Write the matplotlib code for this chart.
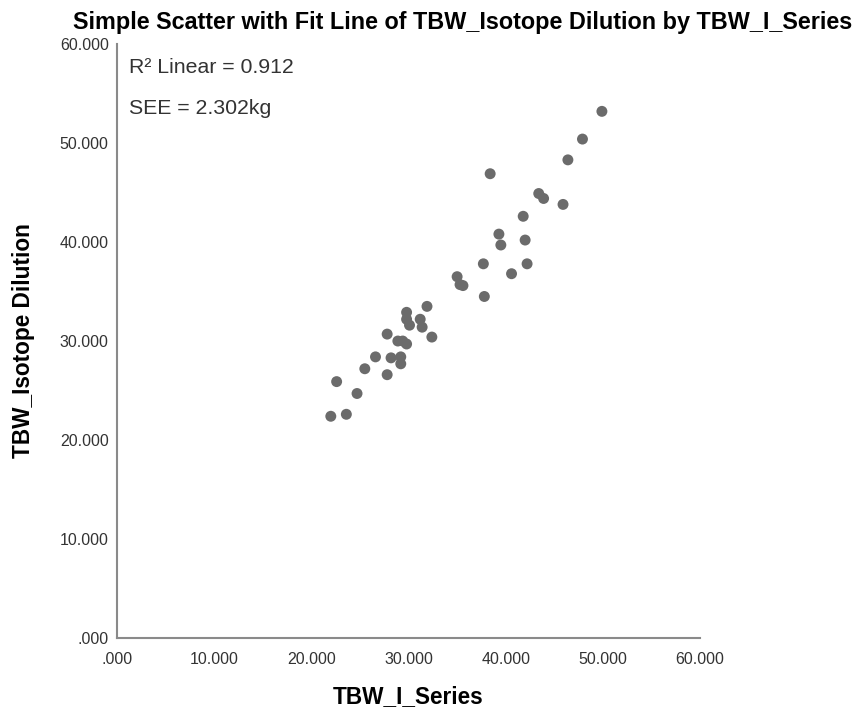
import matplotlib
matplotlib.use("Agg")
import matplotlib.pyplot as plt

plt.rcParams['font.family'] = ['Liberation Sans', 'DejaVu Sans']

title = "Simple Scatter with Fit Line of TBW_Isotope Dilution by TBW_I_Series"
x_label = "TBW_I_Series"
y_label = "TBW_Isotope Dilution"
r2_text = "R\u00b2 Linear = 0.912"
see_text = "SEE = 2.302kg"

tbw_i_series = [22.0, 23.6, 22.6, 24.7, 25.5, 26.6, 27.8, 27.8, 28.2, 28.9,
                29.4, 29.2, 29.2, 29.8, 29.8, 29.8, 30.1, 31.2, 31.4, 31.9,
                32.4, 35.0, 35.3, 35.6, 37.7, 37.8, 38.4, 39.3, 39.5, 40.6,
                41.8, 42.0, 42.2, 43.4, 43.9, 45.9, 46.4, 47.9, 49.9]
tbw_isotope = [22.4, 22.6, 25.9, 24.7, 27.2, 28.4, 26.6, 30.7, 28.3, 30.0,
               30.0, 28.4, 27.7, 29.7, 32.9, 32.2, 31.6, 32.2, 31.4, 33.5,
               30.4, 36.5, 35.7, 35.6, 37.8, 34.5, 46.9, 40.8, 39.7, 36.8,
               42.6, 40.2, 37.8, 44.9, 44.4, 43.8, 48.3, 50.4, 53.2]

ticks = [0, 10, 20, 30, 40, 50, 60]
tick_labels = [".000", "10.000", "20.000", "30.000", "40.000", "50.000", "60.000"]

fig = plt.figure(figsize=(8.58, 7.16), dpi=100)
ax = fig.add_axes([0.1364, 0.1089, 0.6795, 0.8296])

ax.scatter(tbw_i_series, tbw_isotope, s=62, color='#6b6b6b', edgecolors='none', zorder=3)

ax.set_xlim(0, 60)
ax.set_ylim(0, 60)
ax.set_xticks(ticks)
ax.set_xticklabels(tick_labels)
ax.set_yticks(ticks)
ax.set_yticklabels(tick_labels)
ax.tick_params(length=0, labelsize=11.5, colors='#333333', pad=10)
ax.tick_params(axis='y', pad=6)

for s in ['top', 'right']:
    ax.spines[s].set_visible(False)
for s in ['left', 'bottom']:
    ax.spines[s].set_color('#8a8a8a')
    ax.spines[s].set_linewidth(1.5)

ax.set_xlabel(x_label, fontsize=16.3, fontweight='bold', labelpad=13)
ax.set_ylabel(y_label, fontsize=16.3, fontweight='bold', labelpad=18)

fig.text(0.5396, 0.969, title, ha='center', va='center', fontsize=16.8, fontweight='bold')

ax.text(0.02, 0.961, r2_text, transform=ax.transAxes, fontsize=15.3, color='#333333', va='center')
ax.text(0.02, 0.892, see_text, transform=ax.transAxes, fontsize=15.3, color='#333333', va='center')

fig.savefig("out.png", dpi=100, facecolor='white')
